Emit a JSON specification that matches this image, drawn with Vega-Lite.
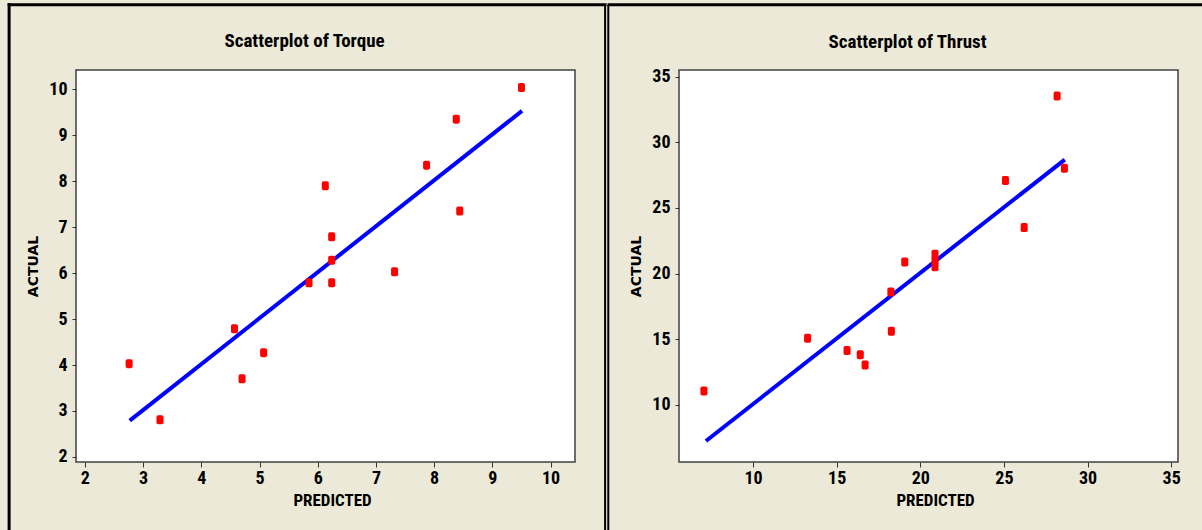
{
  "$schema": "https://vega.github.io/schema/vega-lite/v6.json",
  "background": "#ECE9D8",
  "padding": {"left": 6, "top": 1, "right": 0, "bottom": 0},
  "spacing": 104,
  "bounds": "flush",
  "datasets": {
    "torque": [
      {"predicted": 2.76, "actual": 4.03},
      {"predicted": 3.29, "actual": 2.81},
      {"predicted": 4.57, "actual": 4.79},
      {"predicted": 4.70, "actual": 3.70},
      {"predicted": 5.07, "actual": 4.27},
      {"predicted": 5.85, "actual": 5.79},
      {"predicted": 6.13, "actual": 7.90},
      {"predicted": 6.24, "actual": 6.79},
      {"predicted": 6.24, "actual": 6.28},
      {"predicted": 6.24, "actual": 5.79},
      {"predicted": 7.32, "actual": 6.03},
      {"predicted": 7.87, "actual": 8.35},
      {"predicted": 8.38, "actual": 9.35},
      {"predicted": 8.44, "actual": 7.35},
      {"predicted": 9.50, "actual": 10.04}
    ],
    "torque_fit": [
      {"predicted": 2.77, "actual": 2.79},
      {"predicted": 9.51, "actual": 9.53}
    ],
    "thrust": [
      {"predicted": 7.06, "actual": 11.04},
      {"predicted": 13.26, "actual": 15.06},
      {"predicted": 15.62, "actual": 14.13},
      {"predicted": 16.41, "actual": 13.80},
      {"predicted": 16.70, "actual": 13.03},
      {"predicted": 18.24, "actual": 18.59},
      {"predicted": 18.27, "actual": 15.60},
      {"predicted": 19.07, "actual": 20.88},
      {"predicted": 20.88, "actual": 20.52},
      {"predicted": 20.88, "actual": 21.00},
      {"predicted": 20.88, "actual": 21.48},
      {"predicted": 25.09, "actual": 27.09},
      {"predicted": 26.21, "actual": 23.51},
      {"predicted": 28.18, "actual": 33.53},
      {"predicted": 28.62, "actual": 28.02}
    ],
    "thrust_fit": [
      {"predicted": 7.18, "actual": 7.23},
      {"predicted": 28.64, "actual": 28.69}
    ]
  },
  "config": {
    "view": {"fill": "white", "stroke": "#404040", "strokeWidth": 1.5},
    "axis": {
      "domain": false,
      "grid": false,
      "labelFont": "Liberation Sans Narrow, Noto Sans Condensed, Roboto Condensed, DejaVu Sans Condensed",
      "labelFontWeight": "bold",
      "labelFontSize": 18,
      "labelColor": "black",
      "tickColor": "#333333",
      "tickWidth": 1,
      "labelFlush": false,
      "labelOverlap": false,
      "format": "d"
    },
    "axisX": {
      "tickSize": 5,
      "labelPadding": 2,
      "titleFont": "Liberation Sans Narrow, Noto Sans Condensed, Roboto Condensed, DejaVu Sans Condensed",
      "titleFontSize": 17,
      "titleFontWeight": "bold",
      "titleColor": "black",
      "titlePadding": 5,
      "titleX": 256
    },
    "axisY": {
      "tickSize": 4,
      "labelPadding": 5,
      "titleFont": "DejaVu Sans",
      "titleFontSize": 14,
      "titleFontWeight": "bold",
      "titleColor": "black",
      "titlePadding": 8
    },
    "title": {
      "font": "Liberation Sans Narrow, Noto Sans Condensed, Roboto Condensed, DejaVu Sans Condensed",
      "fontSize": 19,
      "fontWeight": "bold",
      "color": "black",
      "anchor": "middle",
      "frame": "group",
      "baseline": "alphabetic",
      "offset": -48.5
    }
  },
  "hconcat": [
    {
      "width": 499,
      "height": 392,
      "title": {"text": "Scatterplot of Torque", "dx": -21},
      "layer": [
        {
          "data": {"name": "torque_fit"},
          "mark": {"type": "line", "color": "#0000FF", "strokeWidth": 4},
          "encoding": {
            "x": {"field": "predicted", "type": "quantitative",
                  "scale": {"domain": [1.847, 10.42], "nice": false, "zero": false},
                  "axis": {"values": [2, 3, 4, 5, 6, 7, 8, 9, 10], "title": "PREDICTED"}},
            "y": {"field": "actual", "type": "quantitative",
                  "scale": {"domain": [1.89, 10.42], "nice": false, "zero": false},
                  "axis": {"values": [2, 3, 4, 5, 6, 7, 8, 9, 10], "title": "ACTUAL"}}
          }
        },
        {
          "data": {"name": "torque"},
          "mark": {"type": "point", "filled": true, "opacity": 1, "color": "#FF0000", "size": 81,
                   "shape": "M-0.78,-0.6 Q-0.78,-1 -0.38,-1 L0.38,-1 Q0.78,-1 0.78,-0.6 L0.78,0.6 Q0.78,1 0.38,1 L-0.38,1 Q-0.78,1 -0.78,0.6 Z"},
          "encoding": {
            "x": {"field": "predicted", "type": "quantitative"},
            "y": {"field": "actual", "type": "quantitative"}
          }
        },
        {
          "data": {"values": [{}]},
          "mark": {"type": "rule", "color": "black", "strokeWidth": 3, "strokeCap": "square"},
          "encoding": {
            "x": {"datum": 0.698, "type": "quantitative"},
            "y": {"datum": 11.841, "type": "quantitative"},
            "y2": {"datum": 0}
          }
        },
        {
          "data": {"values": [{}]},
          "mark": {"type": "rule", "color": "black", "strokeWidth": 3, "strokeCap": "square"},
          "encoding": {
            "x": {"datum": 0.698, "type": "quantitative"},
            "x2": {"datum": 10.937},
            "y": {"datum": 11.841, "type": "quantitative"}
          }
        },
        {
          "data": {"values": [{}]},
          "mark": {"type": "rule", "color": "black", "strokeWidth": 2},
          "encoding": {
            "x": {"datum": 10.937, "type": "quantitative"},
            "y": {"datum": 11.841, "type": "quantitative"},
            "y2": {"datum": 0}
          }
        }
      ]
    },
    {
      "width": 499,
      "height": 392,
      "title": {"text": "Scatterplot of Thrust", "dx": -21},
      "layer": [
        {
          "data": {"name": "thrust_fit"},
          "mark": {"type": "line", "color": "#0000FF", "strokeWidth": 4},
          "encoding": {
            "x": {"field": "predicted", "type": "quantitative",
                  "scale": {"domain": [5.57, 35.41], "nice": false, "zero": false},
                  "axis": {"values": [10, 15, 20, 25, 30, 35], "title": "PREDICTED"}},
            "y": {"field": "actual", "type": "quantitative",
                  "scale": {"domain": [5.63, 35.52], "nice": false, "zero": false},
                  "axis": {"values": [10, 15, 20, 25, 30, 35], "title": "ACTUAL"}}
          }
        },
        {
          "data": {"name": "thrust"},
          "mark": {"type": "point", "filled": true, "opacity": 1, "color": "#FF0000", "size": 81,
                   "shape": "M-0.78,-0.6 Q-0.78,-1 -0.38,-1 L0.38,-1 Q0.78,-1 0.78,-0.6 L0.78,0.6 Q0.78,1 0.38,1 L-0.38,1 Q-0.78,1 -0.78,0.6 Z"},
          "encoding": {
            "x": {"field": "predicted", "type": "quantitative"},
            "y": {"field": "actual", "type": "quantitative"}
          }
        },
        {
          "data": {"values": [{}]},
          "mark": {"type": "rule", "color": "black", "strokeWidth": 2},
          "encoding": {
            "x": {"datum": 1.342, "type": "quantitative"},
            "y": {"datum": 40.5, "type": "quantitative"},
            "y2": {"datum": 0}
          }
        },
        {
          "data": {"values": [{}]},
          "mark": {"type": "rule", "color": "black", "strokeWidth": 3},
          "encoding": {
            "x": {"datum": 1.3, "type": "quantitative"},
            "x2": {"datum": 37.2},
            "y": {"datum": 40.5, "type": "quantitative"}
          }
        }
      ]
    }
  ]
}
